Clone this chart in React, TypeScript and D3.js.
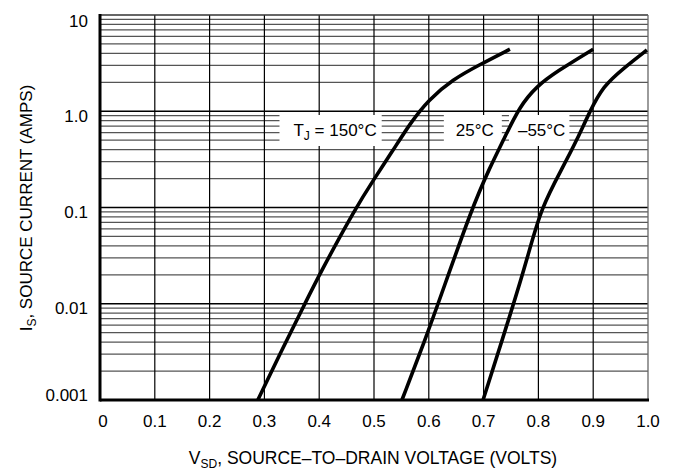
import { useRef, useEffect } from "react";
import * as d3 from "d3";

// axis ticks
const xTicks = [0, 0.1, 0.2, 0.3, 0.4, 0.5, 0.6, 0.7, 0.8, 0.9, 1.0];
const xTickLabels = ["0", "0.1", "0.2", "0.3", "0.4", "0.5", "0.6", "0.7", "0.8", "0.9", "1.0"];
const yTicks = [0.001, 0.01, 0.1, 1, 10];
const yTickLabels = ["0.001", "0.01", "0.1", "1.0", "10"];

// source current (A) vs. source-to-drain voltage (V)
const v150 = [0.288, 0.334, 0.374, 0.4, 0.467, 0.499, 0.535, 0.566, 0.599, 0.644, 0.693, 0.748];
const i150 = [0.001, 0.0035, 0.01, 0.02, 0.1, 0.193, 0.395, 0.75, 1.31, 2.15, 3.05, 4.41];

const v25 = [0.551, 0.595, 0.617, 0.679, 0.712, 0.736, 0.766, 0.797, 0.833, 0.9];
const i25 = [0.001, 0.0045, 0.01, 0.1, 0.265, 0.5, 1.13, 1.82, 2.58, 4.41];

const vm55 = [0.699, 0.755, 0.78, 0.805, 0.845, 0.87, 0.894, 0.918, 0.955, 0.998];
const im55 = [0.001, 0.01, 0.03, 0.1, 0.265, 0.5, 1.0, 1.82, 2.79, 4.33];

const series = [
  { v: v150, i: i150 },
  { v: v25, i: i25 },
  { v: vm55, i: im55 },
];

const FONT = "'Liberation Sans', Arial, sans-serif";

export default function App() {
  const svgRef = useRef<SVGSVGElement>(null);

  useEffect(() => {
    if (!svgRef.current) return;
    const svg = d3.select(svgRef.current);
    svg.selectAll("*").remove();

    const left = 100, right = 648, top = 15, bottom = 400;
    const x = d3.scaleLinear().domain([0, 1]).range([left, right]);
    const y = d3.scaleLog().domain([0.001, 10]).range([bottom, top]);

    svg.append("rect").attr("width", 678).attr("height", 472).attr("fill", "#fff");

    const grid = svg.append("g");

    // minor horizontal lines
    const minors: number[] = [];
    [0.001, 0.01, 0.1, 1].forEach((d) => {
      for (let k = 2; k <= 9; k++) minors.push(d * k);
    });
    grid.selectAll(".minor")
      .data(minors)
      .join("line")
      .attr("x1", left).attr("x2", right)
      .attr("y1", (d) => y(d)).attr("y2", (d) => y(d))
      .attr("stroke", "#555").attr("stroke-width", 1.3);

    // decade lines
    grid.selectAll(".major")
      .data([0.01, 0.1, 1])
      .join("line")
      .attr("x1", left).attr("x2", right)
      .attr("y1", (d) => y(d)).attr("y2", (d) => y(d))
      .attr("stroke", "#000").attr("stroke-width", 1.3);

    // vertical lines
    grid.selectAll(".vert")
      .data(xTicks.slice(1, -1))
      .join("line")
      .attr("x1", (d) => x(d)).attr("x2", (d) => x(d))
      .attr("y1", top).attr("y2", bottom)
      .attr("stroke", "#000").attr("stroke-width", 1.2);

    // frame
    grid.append("line").attr("x1", left).attr("x2", right).attr("y1", top).attr("y2", top)
      .attr("stroke", "#333").attr("stroke-width", 1.3);
    grid.append("line").attr("x1", right).attr("x2", right).attr("y1", top).attr("y2", bottom)
      .attr("stroke", "#666").attr("stroke-width", 1.3);
    grid.append("line").attr("x1", left).attr("x2", right + 1).attr("y1", bottom).attr("y2", bottom)
      .attr("stroke", "#000").attr("stroke-width", 3);
    grid.append("line").attr("x1", left).attr("x2", left).attr("y1", top - 1).attr("y2", bottom + 1.5)
      .attr("stroke", "#000").attr("stroke-width", 3);

    // curve labels on white boxes
    const labels = [
      { v: 0.429, main: "T", sub: "J", rest: " = 150°C", pl: 14, pr: 5 },
      { v: 0.684, main: "25°C", sub: "", rest: "", pl: 12, pr: 8 },
      { v: 0.806, main: "–55°C", sub: "", rest: "", pl: 9, pr: 4 },
    ];
    const lab = svg.append("g");
    labels.forEach((l) => {
      const g = lab.append("g");
      const rect = g.append("rect").attr("fill", "#fff");
      const t = g.append("text")
        .attr("x", x(l.v)).attr("y", 136)
        .attr("text-anchor", "middle")
        .attr("font-family", FONT).attr("font-size", 17).attr("fill", "#000");
      t.append("tspan").text(l.main);
      if (l.sub) {
        t.append("tspan").attr("dy", 4).attr("font-size", 12).text(l.sub);
        t.append("tspan").attr("dy", -4).text(l.rest);
      }
      const bb = (t.node() as SVGTextElement).getBBox();
      rect.attr("x", bb.x - l.pl).attr("width", bb.width + l.pl + l.pr)
        .attr("y", 115).attr("height", 31);
    });

    // curves
    const line = d3.line<[number, number]>()
      .x((d) => x(d[0]))
      .y((d) => y(d[1]))
      .curve(d3.curveBasis);
    svg.append("g").selectAll("path")
      .data(series)
      .join("path")
      .attr("d", (s) => line(s.v.map((v, k) => [v, s.i[k]] as [number, number])))
      .attr("fill", "none")
      .attr("stroke", "#000")
      .attr("stroke-width", 3.6)
      .attr("stroke-linecap", "butt");

    // tick labels
    svg.append("g").selectAll("text")
      .data(xTicks)
      .join("text")
      .attr("x", (d) => x(d) + (d === 0 ? 3 : 0))
      .attr("y", 427)
      .attr("text-anchor", "middle")
      .attr("font-family", FONT).attr("font-size", 17)
      .text((d, k) => xTickLabels[k]);

    svg.append("g").selectAll("text")
      .data(yTicks)
      .join("text")
      .attr("x", 88)
      .attr("y", (d) => Math.min(395, Math.max(21, y(d) + 4.5)))
      .attr("dy", "0.36em")
      .attr("text-anchor", "end")
      .attr("font-family", FONT).attr("font-size", 17)
      .text((d, k) => yTickLabels[k]);

    // axis titles
    const xt = svg.append("text")
      .attr("x", 373).attr("y", 464)
      .attr("text-anchor", "middle")
      .attr("font-family", FONT).attr("font-size", 17.5);
    xt.append("tspan").text("V");
    xt.append("tspan").attr("dy", 4).attr("font-size", 12).text("SD");
    xt.append("tspan").attr("dy", -4).text(", SOURCE–TO–DRAIN VOLTAGE (VOLTS)");

    const yt = svg.append("text")
      .attr("transform", "translate(32,208) rotate(-90)")
      .attr("text-anchor", "middle")
      .attr("font-family", FONT).attr("font-size", 17);
    yt.append("tspan").text("I");
    yt.append("tspan").attr("dy", 4).attr("font-size", 12).text("S");
    yt.append("tspan").attr("dy", -4).text(", SOURCE CURRENT (AMPS)");
  }, []);

  return (
    <svg
      ref={svgRef}
      width={678}
      height={472}
      style={{ position: "absolute", left: 0, top: 0, display: "block" }}
    />
  );
}
